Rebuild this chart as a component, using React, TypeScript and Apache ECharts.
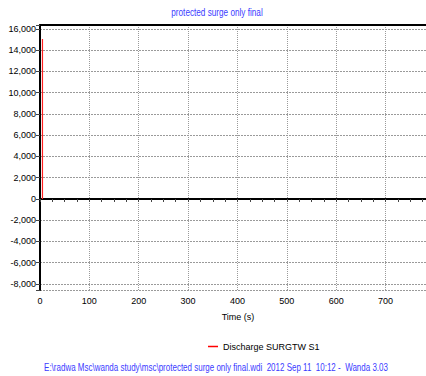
import React, { useEffect, useRef } from "react";
import * as echarts from "echarts";

const titleText = "protected surge only final";
const seriesName = "Discharge SURGTW S1";
const xAxisName = "Time (s)";
const footerText = "E:\\radwa Msc\\wanda study\\msc\\protected surge only final.wdi  2012 Sep 11  10:12 -  Wanda 3.03";

const timeValues = [5, 5];
const dischargeValues = [0, 15050];

const xMin = 0;
const xMax = 782;
const xInterval = 100;
const yMin = -8565;
const yMax = 16376;
const yStep = 2000;

const FONT = '"Liberation Sans", Arial, sans-serif';
const BLUE = "#3b3bff";

export default function App() {
  const ref = useRef<HTMLDivElement>(null);
  useEffect(() => {
    if (!ref.current) return;
    const chart = echarts.init(ref.current, null, { renderer: "svg" });
    const data = timeValues.map((t, i) => [t, dischargeValues[i]]);
    chart.setOption({
      animation: false,
      backgroundColor: "#fff",
      grid: { left: 40, top: 25, right: 0, bottom: 86, containLabel: false, outerBoundsMode: "none" },
      legend: {
        data: [seriesName],
        left: 203,
        top: 337,
        icon: "rect",
        itemWidth: 10,
        itemHeight: 1.5,
        itemGap: 4,
        textStyle: { fontFamily: FONT, fontSize: 9, color: "#000" },
      },
      xAxis: [
        {
          type: "value",
          min: xMin,
          max: xMax,
          interval: xInterval,
          name: xAxisName,
          nameLocation: "middle",
          nameGap: 22,
          nameTextStyle: { fontFamily: FONT, fontSize: 9, color: "#000", padding: [0, 0, 0, 10] },
          axisLine: { show: true, lineStyle: { color: "#000", width: 2 } },
          axisTick: { show: true, length: 3, lineStyle: { color: "#444" } },
          minorTick: { show: true, splitNumber: 4, length: 3, lineStyle: { color: "#444" } },
          axisLabel: {
            fontFamily: FONT,
            fontSize: 9,
            color: "#000",
            margin: 6,
            formatter: (v: number) => (v % xInterval === 0 ? String(v) : ""),
          },
          splitLine: { show: true, lineStyle: { color: "#9a9a9a", type: [1, 1], width: 1 } },
        },
        {
          type: "value",
          position: "top",
          min: xMin,
          max: xMax,
          axisLine: { show: true, lineStyle: { color: "#000", width: 2 } },
          axisTick: { show: false },
          axisLabel: { show: false },
          splitLine: { show: false },
        },
      ],
      yAxis: {
        type: "value",
        min: yMin,
        max: yMax,
        splitNumber: 12,
        axisLine: { show: true, lineStyle: { color: "#000", width: 2 } },
        axisTick: { show: true, length: 4, lineStyle: { color: "#444" } },
        axisLabel: {
          fontFamily: FONT,
          fontSize: 9,
          color: "#000",
          margin: 4,
          formatter: (v: number) => (v % yStep === 0 ? v.toLocaleString("en-US") : ""),
        },
        splitLine: { show: true, lineStyle: { color: "#9a9a9a", type: [2, 1], width: 1 } },
      },
      graphic: [
        {
          type: "text",
          x: 217,
          y: 13,
          scaleX: 0.82,
          style: {
            text: titleText,
            fontFamily: FONT,
            fontSize: 10,
            fill: BLUE,
            textAlign: "center",
            textVerticalAlign: "middle",
          },
        },
        {
          type: "text",
          x: 216,
          y: 368,
          scaleX: 0.8,
          style: {
            text: footerText,
            fontFamily: FONT,
            fontSize: 10,
            fill: BLUE,
            textAlign: "center",
            textVerticalAlign: "middle",
          },
        },
      ],
      series: [
        {
          name: seriesName,
          type: "line",
          data,
          symbol: "none",
          itemStyle: { color: "#ff0000" },
          lineStyle: { color: "#ff2020", width: 1.2 },
        },
      ],
    });
    return () => chart.dispose();
  }, []);
  return <div ref={ref} style={{ position: "absolute", left: 0, top: 0, width: 426, height: 376 }} />;
}
